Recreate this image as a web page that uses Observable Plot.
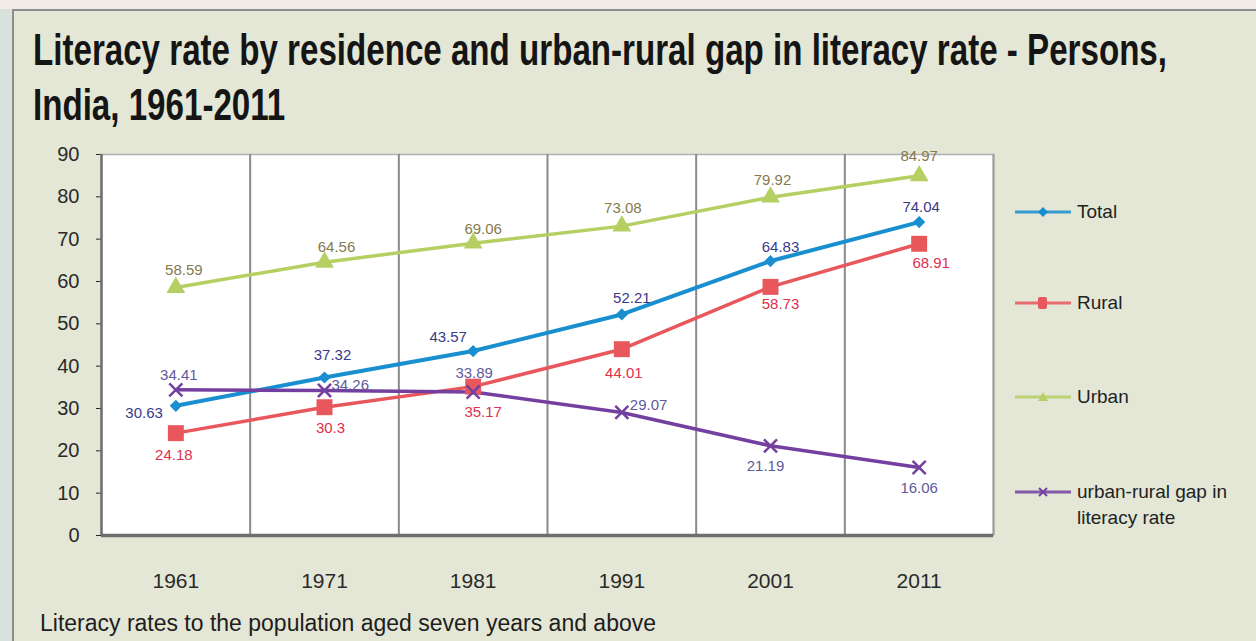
<!DOCTYPE html>
<html>
<head>
<meta charset="utf-8">
<script src="https://cdn.jsdelivr.net/npm/d3@7"></script>
<script src="https://cdn.jsdelivr.net/npm/@observablehq/plot@0.6"></script>
<style>
  html, body { margin:0; padding:0; }
  body { width:1256px; height:641px; position:relative; overflow:hidden;
         background: linear-gradient(#f3ebe8 0, #f3ebe8 9px, #d9e1de 9px); font-family:"Liberation Sans", Arial, sans-serif; }
  #panel { position:absolute; left:12px; top:9px; right:0; bottom:0; background:#e4e7d6;
           border-left:2px solid #8e8e8e; border-top:2px solid #8e8e8e; }
  .tline { position:absolute; left:33px; font-weight:bold; font-size:45px; line-height:44px; color:#151515;
           white-space:nowrap; transform-origin:0 0; }
  #chart { position:absolute; left:0; top:140px; }
  #legend { position:absolute; left:1013px; top:0; }
  .lg { position:absolute; left:0; display:flex; align-items:flex-start; font-size:19px; color:#222; white-space:nowrap; line-height:26px; }
  .lg svg { flex:none; margin-right:4px; }
  #caption { position:absolute; left:40px; top:609px; font-size:23px; color:#1d1d1d; white-space:nowrap; line-height:28px; transform-origin:0 0; }
</style>
</head>
<body>
<div id="panel"></div>
<div class="tline" id="t1" style="top:28px">Literacy rate by residence and urban-rural gap in literacy rate - Persons,</div>
<div class="tline" id="t2" style="top:83px">India, 1961-2011</div>
<div id="chart"></div>
<div id="legend"></div>
<div id="caption">Literacy rates to the population aged seven years and above</div>
<script>
// ---- data ----
const years = [1961, 1971, 1981, 1991, 2001, 2011];
const total = [30.63, 37.32, 43.57, 52.21, 64.83, 74.04];
const rural = [24.18, 30.3, 35.17, 44.01, 58.73, 68.91];
const urban = [58.59, 64.56, 69.06, 73.08, 79.92, 84.97];
const gap   = [34.41, 34.26, 33.89, 29.07, 21.19, 16.06];
const seriesNames = ["Total", "Rural", "Urban", "urban-rural gap in literacy rate"];
const yTicks = [0, 10, 20, 30, 40, 50, 60, 70, 80, 90];

// ---- styles ----
const styles = {
  "Total": {line:"#1a8fd0", label:"#3a3a8c", symbol:"diamond2", r:5.5, width:4},
  "Rural": {line:"#e8575c", label:"#e0304c", symbol:"square", r:9, width:3.5},
  "Urban": {line:"#b5cf62", label:"#857a4e", symbol:"triangle", r:7, width:3.5},
  "urban-rural gap in literacy rate": {line:"#7440a0", label:"#5f5a9c", symbol:"times", r:6, width:3.5}
};
// label offsets in pixels [dx, dy, anchor]
const labelPos = {
  "Total": [[-13,7,"end"],[8,-22,"middle"],[-25,-14,"middle"],[10,-16,"middle"],[10,-14,"middle"],[2,-15,"middle"]],
  "Rural": [[-2,22,"middle"],[6,21,"middle"],[10,26,"middle"],[2,24,"middle"],[10,17,"middle"],[12,19,"middle"]],
  "Urban": [[8,-17,"middle"],[12,-15,"middle"],[10,-14,"middle"],[1,-18,"middle"],[2,-17,"middle"],[0,-20,"middle"]],
  "urban-rural gap in literacy rate": [[3,-15,"middle"],[7,-5,"start"],[1,-19,"middle"],[8,-7,"start"],[-5,20,"middle"],[0,21,"middle"]]
};

const valuesBySeries = {"Total": total, "Rural": rural, "Urban": urban, "urban-rural gap in literacy rate": gap};
const rows = seriesNames.flatMap(s => years.map((yr, i) => ({series: s, year: yr, value: valuesBySeries[s][i], i})));
const boundaries = d3.pairs(years).map(([a, b]) => (a + b) / 2);
const xDomain = [years[0] - (years[1]-years[0])/2, years[years.length-1] + (years[1]-years[0])/2];

const lineMarks = seriesNames.map(s => Plot.line(rows.filter(d => d.series === s),
  {x:"year", y:"value", stroke: styles[s].line, strokeWidth: styles[s].width, strokeLinejoin:"round"}));
const dotMarks = seriesNames.map(s => {
  const st = styles[s];
  const data = rows.filter(d => d.series === s);
  return st.symbol === "times"
    ? Plot.dot(data, {x:"year", y:"value", symbol:"times", r:st.r, stroke:st.line, strokeWidth:2.5, fill:"none"})
    : Plot.dot(data, {x:"year", y:"value", symbol:st.symbol, r:st.r, fill:st.line, stroke:"none"});
});
const labelMarks = rows.map(d => {
  const [dx, dy, anchor] = labelPos[d.series][d.i];
  return Plot.text([d], {x:"year", y:"value", text: v => String(v.value), dx, dy, textAnchor: anchor,
    fill: styles[d.series].label, fontSize: 15, fontFamily:"Liberation Sans Narrow, Liberation Sans, Arial, sans-serif"});
});

const chart = Plot.plot({
  width: 1256, height: 470,
  marginLeft: 101, marginRight: 263, marginTop: 14, marginBottom: 75,
  style: {background: "transparent", fontFamily: "Liberation Sans, Arial, sans-serif", overflow: "visible"},
  x: {domain: xDomain},
  y: {domain: [0, 90]},
  marks: [
    Plot.frame({fill: "white", stroke: "#b0b0b0", strokeWidth: 1.5}),
    Plot.ruleX(boundaries, {stroke: "#8a8a8a", strokeWidth: 2}),
    Plot.ruleX([xDomain[1]], {stroke: "#9a9a9a", strokeWidth: 2}),
    Plot.axisY({ticks: yTicks, tickSize: 5, tickPadding: 17, fontSize: 20, color: "#2a2a2a", label: null}),
    Plot.axisX({ticks: years, tickSize: 0, tickPadding: 38, fontSize: 21, tickFormat: "d", color: "#2a2a2a", label: null}),
    Plot.ruleX([xDomain[0]], {stroke: "#6e6e6e", strokeWidth: 2.5}),
    Plot.ruleY([0], {stroke: "#6e6e6e", strokeWidth: 3.5}),
    ...lineMarks,
    ...dotMarks,
    ...labelMarks
  ]
});
document.getElementById("chart").appendChild(chart);

// legend
const legendY = [212, 303, 397, 492];
const legend = document.getElementById("legend");
seriesNames.forEach((s, k) => {
  const st = styles[s];
  const item = document.createElement("div");
  item.className = "lg";
  item.style.top = (legendY[k] - 13) + "px";
  let glyph = "";
  if (st.symbol === "diamond2") glyph = `<path d="M30,8 L35,13 L30,18 L25,13Z" fill="${st.line}"/>`;
  else if (st.symbol === "square") glyph = `<rect x="25" y="7" width="9" height="12" rx="2" fill="${st.line}"/>`;
  else if (st.symbol === "triangle") glyph = `<path d="M30,8 L35,17 L25,17Z" fill="${st.line}"/>`;
  else glyph = `<path d="M26,9 L34,17 M34,9 L26,17" stroke="${st.line}" stroke-width="2"/>`;
  item.innerHTML = `<svg width="60" height="26"><line x1="2" x2="58" y1="13" y2="13" stroke="${st.line}" stroke-width="3" opacity="0.85"/>${glyph}</svg><span>${s === seriesNames[3] ? "urban-rural gap in<br>literacy rate" : s}</span>`;
  legend.appendChild(item);
});

// fit title and caption widths
const t1 = document.getElementById("t1"), t2 = document.getElementById("t2");
const k = 1134 / t1.getBoundingClientRect().width;
t1.style.transform = `scaleX(${k})`;
t2.style.transform = `scaleX(${k})`;
const cap = document.getElementById("caption");
cap.style.transform = `scaleX(${616 / cap.getBoundingClientRect().width})`;
</script>
</body>
</html>
